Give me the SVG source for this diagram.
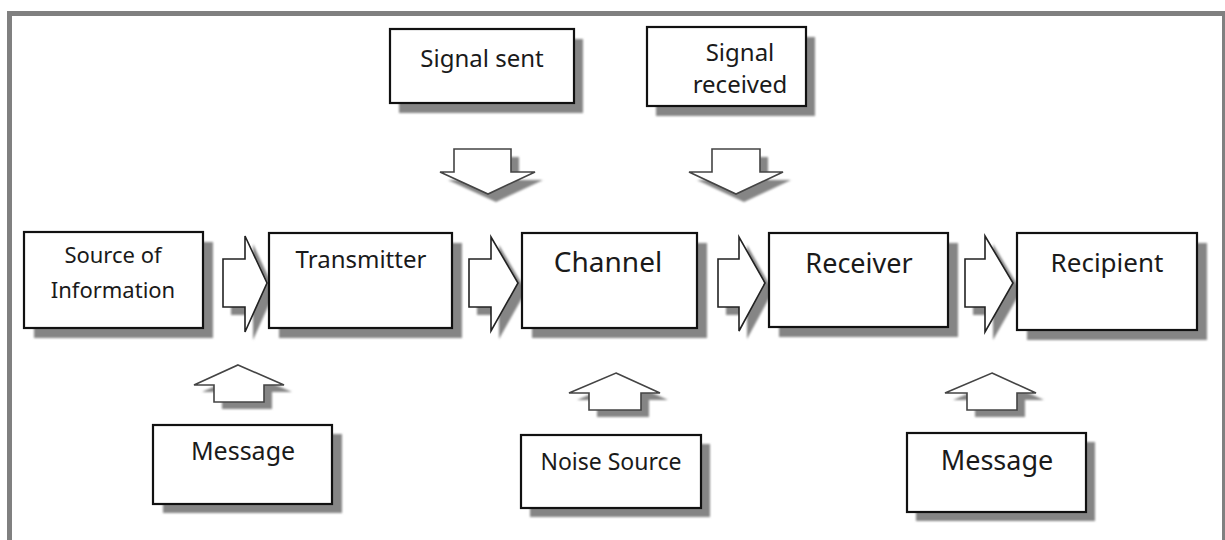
<svg xmlns="http://www.w3.org/2000/svg" width="1225" height="540" viewBox="0 0 1225 540">
  <defs>
    <filter id="soft" x="-10%" y="-10%" width="120%" height="120%">
      <feGaussianBlur stdDeviation="0.8"/>
    </filter>
    <style>
      .frame { fill: #ffffff; stroke: #808080; stroke-width: 5; }
      .box { fill: #ffffff; stroke: #111111; stroke-width: 2.2; }
      .shadow { fill: #858585; filter: url(#soft); }
      .arrow { fill: #ffffff; stroke: #222222; stroke-width: 1.6; stroke-linejoin: miter; }
      .arrow-up { fill: #ffffff; stroke: #444444; stroke-width: 1.6; stroke-linejoin: miter; }
      .label { font-family: "Noto Sans", "Open Sans", sans-serif; fill: #1a1a1a; text-anchor: middle; }
    </style>
  </defs>

  <rect width="1225" height="540" fill="#ffffff"/>
  <rect class="frame" x="9.5" y="13.5" width="1215" height="560"/>

  <!-- block arrows linking the stages -->
  <g id="connectors">
    <!-- horizontal flow arrows -->
    <g>
      <path class="shadow" transform="translate(8,8)" d="M223,259 H245 V236 L267,283 L245,332 V307 H223 Z"/>
      <path class="arrow" d="M223,259 H245 V236 L267,283 L245,332 V307 H223 Z"/>
    </g>
    <g>
      <path class="shadow" transform="translate(8,8)" d="M469,259 H491 V237 L518,283 L491,331 V307 H469 Z"/>
      <path class="arrow" d="M469,259 H491 V237 L518,283 L491,331 V307 H469 Z"/>
    </g>
    <g>
      <path class="shadow" transform="translate(8,8)" d="M718,259 H739 V237 L765,283 L739,331 V307 H718 Z"/>
      <path class="arrow" d="M718,259 H739 V237 L765,283 L739,331 V307 H718 Z"/>
    </g>
    <g>
      <path class="shadow" transform="translate(8,8)" d="M965,259 H985 V236 L1013,283 L985,332 V307 H965 Z"/>
      <path class="arrow" d="M965,259 H985 V236 L1013,283 L985,332 V307 H965 Z"/>
    </g>

    <!-- signal arrows pointing down -->
    <g>
      <path class="shadow" transform="translate(8,8)" d="M454,149 H511 V172 H535 L488,194 L440,172 H454 Z"/>
      <path class="arrow-up" d="M454,149 H511 V172 H535 L488,194 L440,172 H454 Z"/>
    </g>
    <g>
      <path class="shadow" transform="translate(8,8)" d="M712,149 H760 V172 H783 L736,194 L689,172 H712 Z"/>
      <path class="arrow-up" d="M712,149 H760 V172 H783 L736,194 L689,172 H712 Z"/>
    </g>

    <!-- input arrows pointing up -->
    <g>
      <path class="shadow" transform="translate(8,7)" d="M238,365 L284,385 H264 V402 H214 V385 H194 Z"/>
      <path class="arrow-up" d="M238,365 L284,385 H264 V402 H214 V385 H194 Z"/>
    </g>
    <g>
      <path class="shadow" transform="translate(8,7)" d="M616,373 L660,393 H641 V410 H589 V393 H569 Z"/>
      <path class="arrow-up" d="M616,373 L660,393 H641 V410 H589 V393 H569 Z"/>
    </g>
    <g>
      <path class="shadow" transform="translate(8,7)" d="M992,373 L1036,393 H1017 V410 H967 V393 H945 Z"/>
      <path class="arrow-up" d="M992,373 L1036,393 H1017 V410 H967 V393 H945 Z"/>
    </g>
  </g>

  <!-- top row -->
  <g id="signal-sent">
    <rect class="shadow" x="399" y="39" width="184" height="74"/>
    <rect class="box" x="390" y="29" width="184" height="74"/>
    <text class="label" x="482" y="67" font-size="24">Signal sent</text>
  </g>
  <g id="signal-received">
    <rect class="shadow" x="656" y="37" width="159" height="79"/>
    <rect class="box" x="647" y="27" width="159" height="79"/>
    <text class="label" x="740" y="61" font-size="24">Signal</text>
    <text class="label" x="740" y="93" font-size="24">received</text>
  </g>

  <!-- main row -->
  <g id="source">
    <rect class="shadow" x="34" y="242" width="179" height="96"/>
    <rect class="box" x="24" y="232" width="179" height="96"/>
    <text class="label" x="113" y="263" font-size="22">Source of</text>
    <text class="label" x="113" y="298" font-size="22">Information</text>
  </g>
  <g id="transmitter">
    <rect class="shadow" x="279" y="243" width="183" height="95"/>
    <rect class="box" x="269" y="233" width="183" height="95"/>
    <text class="label" x="361" y="268" font-size="24">Transmitter</text>
  </g>
  <g id="channel">
    <rect class="shadow" x="532" y="243" width="175" height="95"/>
    <rect class="box" x="522" y="233" width="175" height="95"/>
    <text class="label" x="608" y="272" font-size="28">Channel</text>
  </g>
  <g id="receiver">
    <rect class="shadow" x="779" y="243" width="179" height="94"/>
    <rect class="box" x="769" y="233" width="179" height="94"/>
    <text class="label" x="859" y="273" font-size="27">Receiver</text>
  </g>
  <g id="recipient">
    <rect class="shadow" x="1027" y="243" width="180" height="97"/>
    <rect class="box" x="1017" y="233" width="180" height="97"/>
    <text class="label" x="1107" y="272" font-size="26">Recipient</text>
  </g>

  <!-- bottom row -->
  <g id="message-source">
    <rect class="shadow" x="163" y="434" width="179" height="79"/>
    <rect class="box" x="153" y="425" width="179" height="79"/>
    <text class="label" x="243" y="460" font-size="25">Message</text>
  </g>
  <g id="noise-source">
    <rect class="shadow" x="530" y="444" width="180" height="73"/>
    <rect class="box" x="521" y="435" width="180" height="73"/>
    <text class="label" x="611" y="470" font-size="23">Noise Source</text>
  </g>
  <g id="message-recipient">
    <rect class="shadow" x="916" y="442" width="179" height="79"/>
    <rect class="box" x="907" y="433" width="179" height="79"/>
    <text class="label" x="997" y="470" font-size="27">Message</text>
  </g>
</svg>
